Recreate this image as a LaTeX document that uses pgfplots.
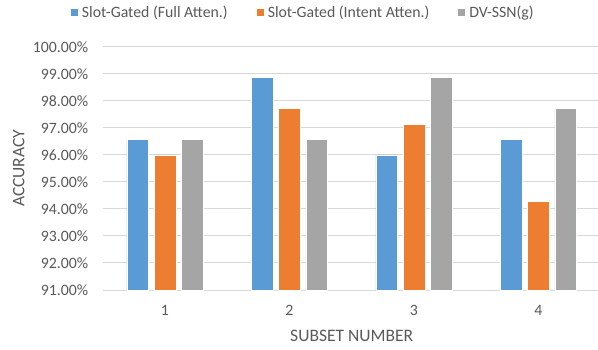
\documentclass[border=0pt]{standalone}
\usepackage{fontspec}
\setmainfont{Carlito}
\usepackage{pgfplots}
\pgfplotsset{compat=1.18}

\definecolor{barblue}{HTML}{5B9BD5}
\definecolor{barorange}{HTML}{ED7D31}
\definecolor{bargrey}{HTML}{A5A5A5}
\definecolor{gridgrey}{HTML}{D9D9D9}
\definecolor{labelgrey}{HTML}{595959}

\newcommand\tickfont{\fontsize{15.8pt}{19pt}\selectfont}
\newcommand\titlefont{\fontsize{17.5pt}{21pt}\selectfont}

\pgfplotsset{
  accbar/.style={
    ybar, bar width=0.1743, draw=white, line width=0.5pt,
    legend image code/.code={\fill[##1,draw=none] (0pt,-3.5pt) rectangle (7pt,3.5pt);}
  }
}

\begin{document}
\begin{tikzpicture}
\begin{axis}[
  scale only axis, width=498pt, height=243.3pt,
  xmin=0.5, xmax=4.5, ymin=91, ymax=100,
  xtick={1,2,3,4}, ytick={91,92,...,100},
  axis lines*=left,
  y axis line style={draw=none},
  x axis line style={draw=gridgrey, line width=1pt},
  tick style={draw=none},
  ymajorgrids,
  major grid style={draw=gridgrey, line width=1pt},
  /pgf/number format/assume math mode=true,
  yticklabel={\pgfmathprintnumber[fixed,fixed zerofill,precision=2]{\tick}\%},
  xticklabel style={font=\tickfont, text=labelgrey, inner sep=0pt, yshift=-15pt},
  yticklabel style={font=\tickfont, text=labelgrey, inner sep=0pt, xshift=-14.4pt},
  every axis x label/.style={at={(axis description cs:0.5,-0.189)}, anchor=center},
  every axis y label/.style={at={(axis description cs:-0.1687,0.5)}, rotate=90, anchor=center},
  xlabel style={font=\titlefont, text=labelgrey},
  ylabel style={font=\titlefont, text=labelgrey},
  xlabel={SUBSET NUMBER},
  ylabel={ACCURACY},
  legend columns=3,
  legend style={
    at={(axis description cs:-0.0637,1.1406)}, anchor=west,
    draw=none, fill=none, inner sep=0pt, outer sep=0pt,
    font=\tickfont, text=labelgrey,
    nodes={inner sep=0pt},
    column sep=4pt,
    /tikz/every even column/.append style={column sep=29pt},
  },
]
\addplot[accbar, bar shift=-0.2193, fill=barblue]
  coordinates {(1,96.57) (2,98.86) (3,96.00) (4,96.57)};
\addlegendentry{Slot-Gated (Full Atten.)}
\addplot[accbar, bar shift=0, fill=barorange]
  coordinates {(1,96.00) (2,97.71) (3,97.14) (4,94.29)};
\addlegendentry{Slot-Gated (Intent Atten.)}
\addplot[accbar, bar shift=0.2193, fill=bargrey]
  coordinates {(1,96.57) (2,96.57) (3,98.86) (4,97.71)};
\addlegendentry{DV-SSN(g)}
\end{axis}
\pgfresetboundingbox
\useasboundingbox (-102.7pt,-59pt) rectangle (495.3pt,290pt);
\end{tikzpicture}
\end{document}
